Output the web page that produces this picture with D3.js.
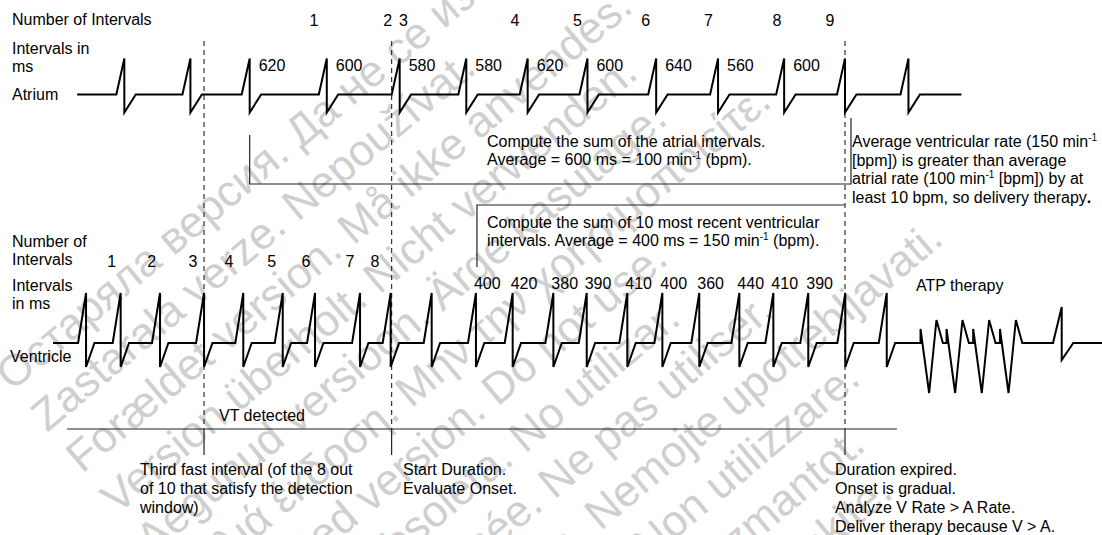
<!DOCTYPE html>
<html>
<head>
<meta charset="utf-8">
<script src="https://cdn.jsdelivr.net/npm/d3@7"></script>
<style>
html, body { margin: 0; padding: 0; background: #fff; }
svg { display: block; font-family: "Liberation Sans", Arial, sans-serif; }
</style>
</head>
<body>
<svg id="main-svg" width="1102" height="535"></svg>
<script>
// beat times along the strip, in ms
const atrialBeats = [680, 1310, 1875, 2610, 3305, 3940, 4525, 5095, 5750, 6340, 6970, 7550, 8155];
const atrialIntervals = [620, 600, 580, 580, 620, 600, 640, 560, 600];
const atrialCountAt = [2488, 3190, 3340, 4404, 5000, 5651, 6249, 6902, 7407];

const ventBeats = [315, 645, 1020, 1440, 1814, 2190, 2498, 2927, 3219, 3610, 4032,
	4382, 4770, 5088, 5475, 5809, 6161, 6543, 6867, 7200, 7553, 7948];
const ventIntervals = [400, 420, 380, 390, 410, 400, 360, 440, 410, 390];
const ventCountAt = [560, 941, 1335, 1678, 2085, 2412, 2832, 3070];

const atpPulses = [8270, 8518, 8772, 9027];
const postBeat = 9616;
const markers = [1440, 3228, 7550];

const watermark = [
	'Остаряла версия. Да не се използва.',
	'Zastaralá verze. Nepoužívat.',
	'Forældet version. Må ikke anvendes.',
	'Version überholt. Nicht verwenden.',
	'Aegunud versioon. Ärge kasutage.',
	'Παλιά έκδοση. Μην την χρησιμοποιείτε.',
	'Outdated version. Do not use.',
	'Versión obsoleta. No utilizar.',
	'Version périmée. Ne pas utiliser.',
	'Zastarjela verzija. Nemojte upotrebljavati.',
	'Versione obsoleta. Non utilizzare.',
	'Novecojusi versija. Neizmantot.',
	'Pasenusi versija. Nenaudokite.'
];

var svg = d3.select('#main-svg');

var x = d3.scaleLinear().domain([0, 10000]).range([53, 1102]);
var yA = d3.scaleLinear().domain([0, 1]).range([94.5, 58.5]);
var yV = d3.scaleLinear().domain([0, 1]).range([343, 293]);

// watermark behind everything
var wm = svg.append('g')
	.attr('fill', '#cfcfcf')
	.attr('font-size', 44);
watermark.forEach((s, i) => {
	var ax = 12 + i * 35, ay = 392 + i * 41;
	wm.append('text')
		.attr('x', ax).attr('y', ay)
		.attr('transform', `rotate(-40,${ax},${ay})`)
		.text(s);
});

function beatPoints(beats, o) {
	var pts = [];
	beats.forEach(t => {
		pts.push([t - o.rise, 0], [t, o.peak], [t, o.trough], [t + o.rec, 0]);
	});
	return pts;
}

var atrialPts = [[230, 0]]
	.concat(beatPoints(atrialBeats, { rise: 76, rec: 109, peak: 1, trough: -0.5 }))
	.concat([[8660, 0]]);

var ventPts = [[0, 0]]
	.concat(beatPoints(ventBeats, { rise: 76, rec: 80, peak: 1, trough: -0.48 }));
atpPulses.forEach(t => {
	ventPts.push([t, 0], [t, 0.28], [t + 82, -1], [t + 152, 0.46], [t + 213, 0]);
});
ventPts = ventPts
	.concat(beatPoints([postBeat], { rise: 83, rec: 110, peak: 0.72, trough: -0.34 }))
	.concat([[10000, 0]]);

// guide lines
var guides = svg.append('g').attr('stroke', '#222').attr('fill', 'none');

guides.selectAll('.marker')
	.data(markers)
	.enter().append('line')
	.attr('x1', d => x(d)).attr('x2', d => x(d))
	.attr('y1', 41).attr('y2', 429)
	.attr('stroke', '#333')
	.attr('stroke-width', 1.2)
	.attr('stroke-dasharray', '5,4');

guides.selectAll('.tick')
	.data(markers)
	.enter().append('line')
	.attr('x1', d => x(d)).attr('x2', d => x(d))
	.attr('y1', 429).attr('y2', 455)
	.attr('stroke-width', 1.2);

guides.append('line')
	.attr('x1', 67).attr('x2', 897)
	.attr('y1', 429).attr('y2', 429)
	.attr('stroke-width', 1.2);

// atrial bracket
var bl = x(atrialBeats[2]), br = x(markers[2]) + 6;
guides.append('path')
	.attr('d', `M${bl},135V184H${br}V118`)
	.attr('stroke-width', 1.2);

// ventricular box
var vl = x(ventBeats[10]) + 1;
guides.append('path')
	.attr('d', `M${vl},267V205H${x(markers[2])}`)
	.attr('stroke-width', 1.2);

// strips
svg.append('path')
	.datum(atrialPts)
	.attr('fill', 'none').attr('stroke', '#000').attr('stroke-width', 2)
	.attr('d', d3.line().x(d => x(d[0])).y(d => yA(d[1])));

svg.append('path')
	.datum(ventPts)
	.attr('fill', 'none').attr('stroke', '#000').attr('stroke-width', 2)
	.attr('d', d3.line().x(d => x(d[0])).y(d => yV(d[1])));

// text
var txt = svg.append('g').attr('font-size', 16).attr('fill', '#000');

function label(px, cy, lines, step) {
	step = step || 18.4;
	lines.forEach((ln, i) => {
		var t = txt.append('text').attr('x', px).attr('y', cy + i * step).attr('dy', '0.35em');
		var parts = ln.split(/\^\{([^}]*)\}|\*\{([^}]*)\}/);
		// parts come in groups of three: plain, superscript, bold
		for (var j = 0; j < parts.length; j += 3) {
			if (parts[j]) t.append('tspan').attr('dy', j > 0 && parts[j - 2] ? 6 : null).text(parts[j]);
			if (parts[j + 1]) t.append('tspan').attr('font-size', 10).attr('dy', -6).text(parts[j + 1]);
			if (parts[j + 2]) t.append('tspan').attr('font-weight', 'bold').text(parts[j + 2]);
		}
	});
}

label(12, 19, ['Number of Intervals']);
label(12, 48, ['Intervals in', 'ms']);
label(12, 94, ['Atrium']);

txt.selectAll('.a-count')
	.data(atrialCountAt)
	.enter().append('text')
	.attr('x', d => x(d)).attr('y', 20).attr('dy', '0.35em')
	.attr('text-anchor', 'middle')
	.text((d, i) => i + 1);

txt.selectAll('.a-int')
	.data(atrialIntervals)
	.enter().append('text')
	.attr('x', (d, i) => x(atrialBeats[i + 2]) + 9).attr('y', 65).attr('dy', '0.35em')
	.text(d => d);

label(487, 141, ['Compute the sum of the atrial intervals.', 'Average = 600 ms = 100 min^{-1} (bpm).']);
label(852, 141.7, ['Average ventricular rate (150 min^{-1}', '[bpm]) is greater than average',
	'atrial rate (100 min^{-1} [bpm]) by at', 'least 10 bpm, so delivery therapy*{.}']);
label(487, 222, ['Compute the sum of 10 most recent ventricular', 'intervals. Average = 400 ms = 150 min^{-1} (bpm).']);

label(12, 241, ['Number of', 'Intervals']);
label(12, 285, ['Intervals', 'in ms']);
label(10, 356, ['Ventricle']);

txt.selectAll('.v-count')
	.data(ventCountAt)
	.enter().append('text')
	.attr('x', d => x(d)).attr('y', 261).attr('dy', '0.35em')
	.attr('text-anchor', 'middle')
	.text((d, i) => i + 1);

txt.selectAll('.v-int')
	.data(ventIntervals)
	.enter().append('text')
	.attr('x', (d, i) => x(ventBeats[i + 10]) - 2).attr('y', 283).attr('dy', '0.35em')
	.text(d => d);

label(916, 285, ['ATP therapy']);
label(219, 415, ['VT detected']);
label(140, 469, ['Third fast interval (of the 8 out', 'of 10 that satisfy the detection', 'window)'], 19);
label(403, 469, ['Start Duration.', 'Evaluate Onset.'], 19);
label(835, 469, ['Duration expired.', 'Onset is gradual.', 'Analyze V Rate > A Rate.', 'Deliver therapy because V > A.'], 19);
</script>
</body>
</html>
